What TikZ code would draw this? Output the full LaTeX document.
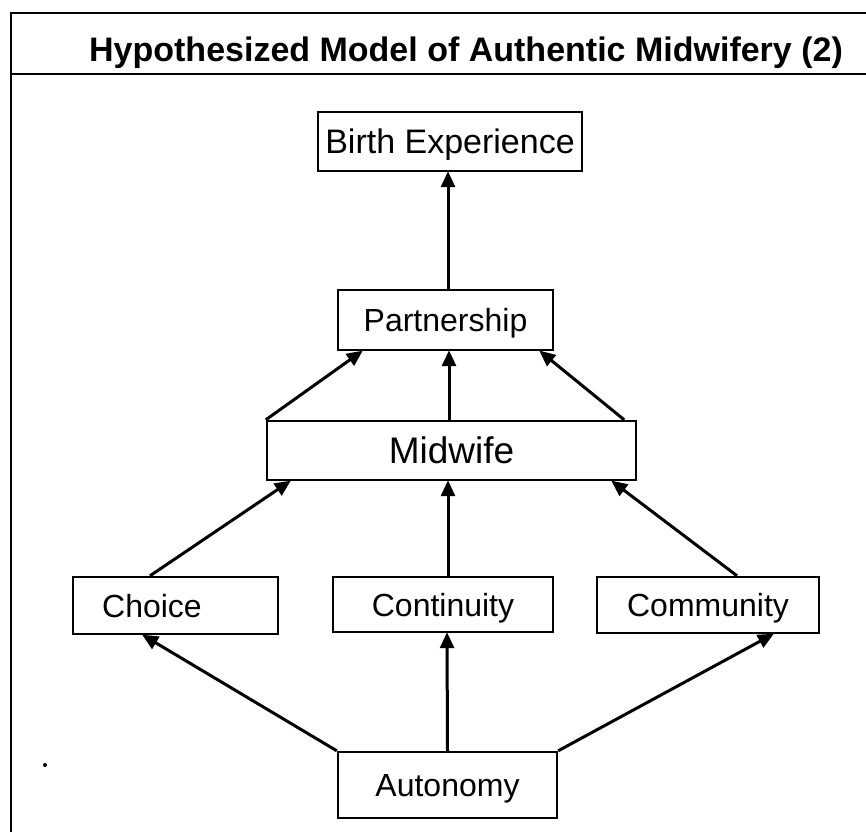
\documentclass[tikz,border=0pt]{standalone}
\usepackage{fontspec}
\setmainfont{Liberation Sans}
\usetikzlibrary{arrows.meta}
\begin{document}
\begin{tikzpicture}[x=1pt,y=-1pt,
  box/.style={draw=black,line width=2.4pt,inner sep=0pt,text depth=0pt,font=\fontsize{32}{38}\selectfont},
  conn/.style={line width=3pt,-{Triangle[length=16pt,width=14pt]},shorten >=-1pt},
  frameline/.style={line width=2.6pt}]
\useasboundingbox (0,0) rectangle (866,832);
% frame
\draw[frameline] (11,832) -- (11,13) -- (866,13);
\draw[frameline] (11,74) -- (866,74);
\node[font=\bfseries\fontsize{34}{40}\selectfont,text depth=0pt] (title) at (466,49) {Hypothesized Model of Authentic Midwifery (2)};
% nodes
\node[box,minimum width=264pt,minimum height=59pt,font=\fontsize{34}{40}\selectfont] (birth) at (450,141.5) {Birth Experience};
\node[box,minimum width=215pt,minimum height=60pt] (part) at (445.5,320) {Partnership};
\node[box,minimum width=369pt,minimum height=59pt,font=\fontsize{37}{44}\selectfont] (mid) at (451.5,450.5) {Midwife};
\node[box,minimum width=205pt,minimum height=57pt] (choice) at (175.5,605.5) {Choice\hspace*{47pt}};
\node[box,minimum width=220pt,minimum height=55pt] (cont) at (443,604.5) {Continuity};
\node[box,minimum width=222pt,minimum height=56pt] (comm) at (708,605) {Community};
\node[box,minimum width=219pt,minimum height=66pt] (auto) at (447.5,785) {Autonomy};
% connectors
\draw[conn] ([xshift=2.5pt]part.north) -- ([xshift=-2pt]birth.south);
\draw[conn] (mid.north west) -- ([xshift=-83.5pt]part.south);
\draw[conn] ([xshift=-2.5pt]mid.north) -- ([xshift=3.5pt]part.south);
\draw[conn] ([xshift=-13pt]mid.north east) -- ([xshift=94.5pt]part.south);
\draw[conn] ([xshift=-25.5pt]choice.north) -- ([xshift=-161.5pt]mid.south);
\draw[conn] ([xshift=5pt]cont.north) -- ([xshift=-3.5pt]mid.south);
\draw[conn] ([xshift=29pt]comm.north) -- ([xshift=160.5pt]mid.south);
\draw[conn] (auto.north west) -- ([xshift=-32.5pt]choice.south);
\draw[conn] (auto.north) -- ([xshift=4pt]cont.south);
\draw[conn] (auto.north east) -- ([xshift=65pt]comm.south);
% stray speck
\fill (45,765) circle (2);
\end{tikzpicture}
\end{document}
